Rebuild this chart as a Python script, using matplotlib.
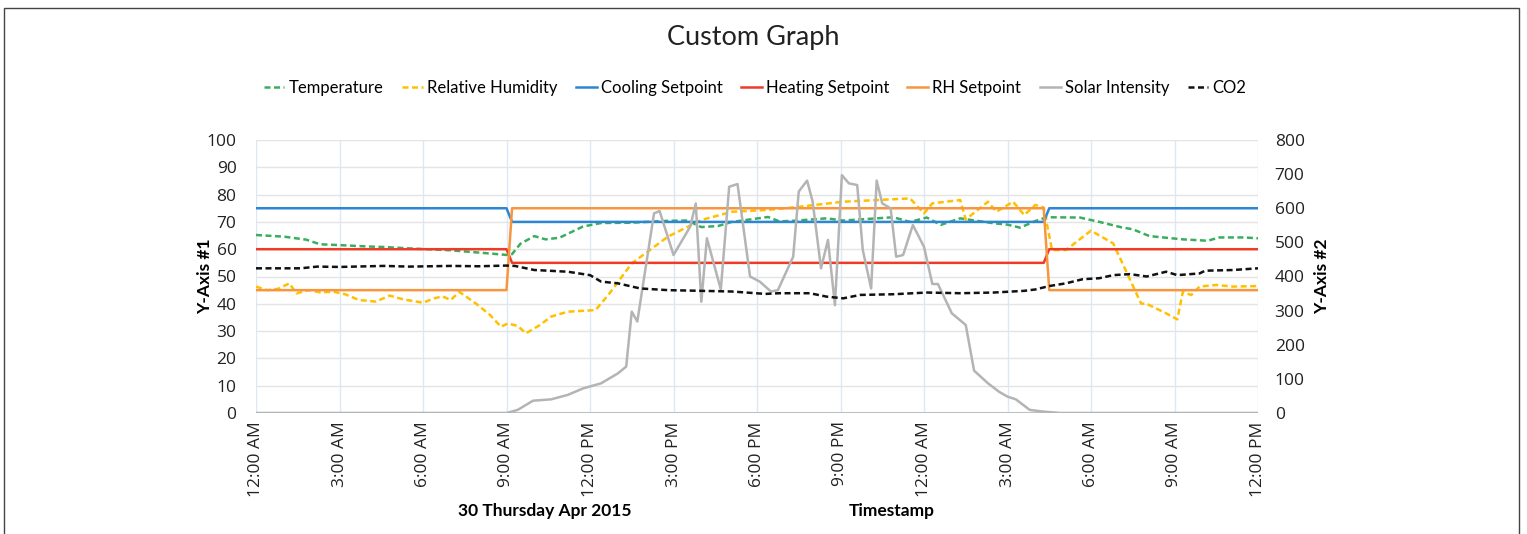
"""
Custom Graph - 온실 환경 데이터 (온도, 습도, 설정값, 일사량, CO2)
out.png 로 저장
"""

import matplotlib
matplotlib.use("Agg")
import matplotlib.pyplot as plt
import matplotlib.patches as mpatches
import numpy as np

NARROW = ["Lato", "DejaVu Sans"]
TICKFONT = ["Open Sans", "DejaVu Sans"]

# ── 데이터 (시간: 0 = 30 Apr 12:00 AM, 36 = 다음날 12:00 PM) ──
X_TICKS = list(range(0, 37, 3))
X_LABELS = ["12:00 AM", "3:00 AM", "6:00 AM", "9:00 AM", "12:00 PM", "3:00 PM", "6:00 PM",
            "9:00 PM", "12:00 AM", "3:00 AM", "6:00 AM", "9:00 AM", "12:00 PM"]

temp_t = [0, 1, 1.8, 2.3, 3, 4, 4.6, 5.5, 7, 8.2, 9, 9.2, 9.5, 10, 10.4, 10.9, 11.75, 12.4,
          13.5, 14.8, 15.5, 16, 16.6, 17.1, 18.4, 18.8, 19.3, 20.5, 21.1, 21.7, 22.9, 23.5,
          24.1, 24.6, 25.3, 26.5, 27.0, 27.45, 28.0, 28.4, 29.6, 30.3, 31.1, 31.5, 32.1,
          33.3, 34.2, 34.6, 35.5, 36]
temp_v = [65.2, 64.6, 63.5, 61.8, 61.5, 61, 60.8, 60.3, 59.6, 58.6, 57.9, 58.2, 62, 64.8,
          63.6, 64.2, 68.3, 69.6, 69.7, 70.4, 70.5, 68.1, 68.5, 70, 71.8, 70.2, 70.4, 71.3,
          70.5, 70.9, 71.7, 70, 71.6, 68.9, 71.3, 69.5, 69, 67.9, 70.3, 71.7, 71.6, 70, 68,
          67.3, 64.8, 63.6, 63.1, 64.3, 64.3, 64]

rh_t = [0, 0.4, 0.8, 1.2, 1.45, 1.9, 2.3, 2.8, 3.2, 3.7, 4.3, 4.8, 5.3, 6, 6.4, 6.7, 7.0,
        7.3, 7.9, 8.4, 8.8, 9.05, 9.4, 9.7, 10.2, 10.6, 11.2, 12.2, 12.7, 13.5, 14.8, 16,
        17.1, 18.4, 19.3, 21.1, 22.9, 23.5, 24.0, 24.3, 25.3, 25.5, 26.3, 26.6, 27.2, 27.6,
        28.0, 28.3, 28.6, 29.1, 30.0, 30.8, 31.8, 32.0, 32.7, 33.1, 33.3, 33.6, 33.9, 34.5,
        35.1, 36]
rh_v = [46.3, 45, 45.5, 47.5, 43.8, 45.0, 44.2, 44.4, 43.5, 41.4, 40.8, 43, 41.6, 40.4, 42,
        42.7, 41.4, 44.4, 40.1, 36, 31.6, 32.8, 31.9, 29.2, 32.2, 35.3, 37.1, 37.7, 43.8,
        54.8, 64.6, 70.7, 73.7, 74.4, 75.3, 77.4, 78.3, 78.6, 73.1, 76.8, 78, 70.9, 77.4,
        73.7, 77.4, 72.5, 76.2, 75.3, 59.7, 59.7, 66.8, 62.1, 40.1, 40, 36.5, 34.3, 44.4,
        43.2, 46.3, 46.9, 46.3, 46.5]

sp_t = [0, 9.0, 9.2, 28.3, 28.5, 36]
cool_v = [75, 75, 70, 70, 75, 75]
heat_v = [60, 60, 55, 55, 60, 60]
rhsp_v = [45, 45, 75, 75, 45, 45]

solar_t = [0, 9.0, 9.4, 9.95, 10.6, 11.2, 11.75, 12.4, 13, 13.3, 13.5, 13.7, 14.3, 14.5, 15,
           15.6, 15.8, 16.0, 16.2, 16.7, 17.0, 17.3, 17.75, 18.1, 18.5, 18.75, 19.3, 19.5,
           19.8, 20.0, 20.3, 20.55, 20.8, 21.05, 21.3, 21.6, 21.8, 22.1, 22.3, 22.5, 22.8,
           23.0, 23.25, 23.6, 24.0, 24.3, 24.5, 25.0, 25.5, 25.8, 26.3, 26.7, 27.0, 27.3,
           27.8, 28.3, 28.9, 36]
solar_v = [0, 0, 9, 36, 40, 53, 72, 87, 116, 136, 297, 268, 585, 592, 463, 546, 614, 326,
           512, 362, 663, 671, 400, 385, 356, 360, 458, 649, 681, 619, 424, 507, 316, 697,
           673, 668, 478, 365, 681, 614, 600, 458, 463, 551, 487, 378, 378, 292, 258, 124,
           87, 62, 48, 40, 9, 4, 0, 0]

co2_t = [0, 1.6, 2.2, 3, 4.6, 5.5, 7, 8, 9, 9.3, 10, 10.5, 11.2, 12, 12.4, 13, 13.8, 14.8,
         16, 17.1, 18.3, 18.8, 19.9, 20.5, 21.1, 21.7, 22.9, 24.1, 25.3, 26.5, 27.6, 28.0,
         28.5, 29.1, 29.7, 30.3, 30.8, 31.4, 32.0, 32.7, 33.1, 33.9, 34.1, 35.1, 36]
co2_v = [424, 424, 429, 428, 431, 429, 431, 430, 432, 431, 419, 417, 414, 404, 385, 380, 365,
         360, 358, 356, 349, 351, 351, 341, 336, 346, 348, 353, 351, 353, 358, 362, 372, 380,
         392, 395, 404, 407, 400, 414, 404, 409, 417, 419, 424]

C_TEMP, C_RH, C_COOL, C_HEAT = "#3AAE5F", "#FFC000", "#2C86D2", "#EE3B26"
C_RHSP, C_SOLAR, C_CO2 = "#F7963E", "#B4B4B4", "#111111"

DASH = (0, (2.4, 1.4))


def main():
    fig = plt.figure(figsize=(15.27, 5.34), dpi=100)
    fig.patches.append(mpatches.Rectangle((4 / 1527, -0.05), 1515 / 1527, 1.05 - 8 / 534,
                                          transform=fig.transFigure, fill=False,
                                          edgecolor="#444444", linewidth=1.0))

    ax = fig.add_axes([256 / 1527, 1 - 413 / 534, 1002 / 1527, 273 / 534])
    ax2 = ax.twinx()

    lw = 1.8
    h_temp, = ax.plot(temp_t, temp_v, color=C_TEMP, lw=lw, ls=DASH, label="Temperature")
    h_rh, = ax.plot(rh_t, rh_v, color=C_RH, lw=lw, ls=DASH, label="Relative Humidity")
    h_cool, = ax.plot(sp_t, cool_v, color=C_COOL, lw=lw, label="Cooling Setpoint")
    h_heat, = ax.plot(sp_t, heat_v, color=C_HEAT, lw=lw, label="Heating Setpoint")
    h_rhsp, = ax.plot(sp_t, rhsp_v, color=C_RHSP, lw=lw, label="RH Setpoint")
    h_solar, = ax2.plot(solar_t, solar_v, color=C_SOLAR, lw=lw, label="Solar Intensity")
    h_co2, = ax2.plot(co2_t, co2_v, color=C_CO2, lw=lw, ls=DASH, label="CO2")

    ax.set_xlim(0, 36)
    ax.set_ylim(0, 100)
    ax2.set_ylim(0, 800)
    ax.set_yticks(range(0, 101, 10))
    ax2.set_yticks(range(0, 801, 100))
    ax.set_xticks(X_TICKS)
    ax.set_xticklabels(X_LABELS, rotation=90, family=TICKFONT, fontsize=12.5, color="#222222")

    for a in (ax, ax2):
        for s in a.spines.values():
            s.set_visible(False)
        a.tick_params(length=0)
    ax.tick_params(axis="y", pad=14, labelsize=12.5)
    ax2.tick_params(axis="y", pad=12, labelsize=12.5)
    ax.tick_params(axis="x", pad=6)
    for lbl in ax.get_yticklabels() + ax2.get_yticklabels():
        lbl.set_family(TICKFONT)
        lbl.set_color("#222222")

    ax.grid(axis="y", color="#E4E4E4", lw=1.0)
    ax.grid(axis="x", color="#DCE8F5", lw=1.0)
    ax.axhline(0, color="#BFBFBF", lw=1.5, zorder=1)
    ax.set_axisbelow(True)

    fig.text(753 / 1527, 1 - 37 / 534, "Custom Graph", ha="center", va="center",
             family=NARROW, fontsize=19.5, color="#222222")
    fig.text(205 / 1527, 1 - 276 / 534, "Y-Axis #1", rotation=90, ha="center", va="center",
             family=NARROW, fontsize=12.5, fontweight="bold")
    fig.text(1322 / 1527, 1 - 276 / 534, "Y-Axis #2", rotation=90, ha="center", va="center",
             family=NARROW, fontsize=12.5, fontweight="bold")
    fig.text(545 / 1527, 1 - 511 / 534, "30 Thursday Apr 2015", ha="center", va="center",
             family=NARROW, fontsize=12.5, fontweight="bold")
    fig.text(892 / 1527, 1 - 511 / 534, "Timestamp", ha="center", va="center",
             family=NARROW, fontsize=12.5, fontweight="bold")

    handles = [h_temp, h_rh, h_cool, h_heat, h_rhsp, h_solar, h_co2]
    fig.legend(handles=handles, labels=[h.get_label() for h in handles], ncol=7,
               loc="center", bbox_to_anchor=(755 / 1527, 1 - 88 / 534), frameon=False,
               prop={"family": NARROW, "size": 12}, handlelength=1.25, handletextpad=0.25,
               columnspacing=1.1)

    fig.savefig("out.png", dpi=100)
    plt.close(fig)


if __name__ == "__main__":
    main()
